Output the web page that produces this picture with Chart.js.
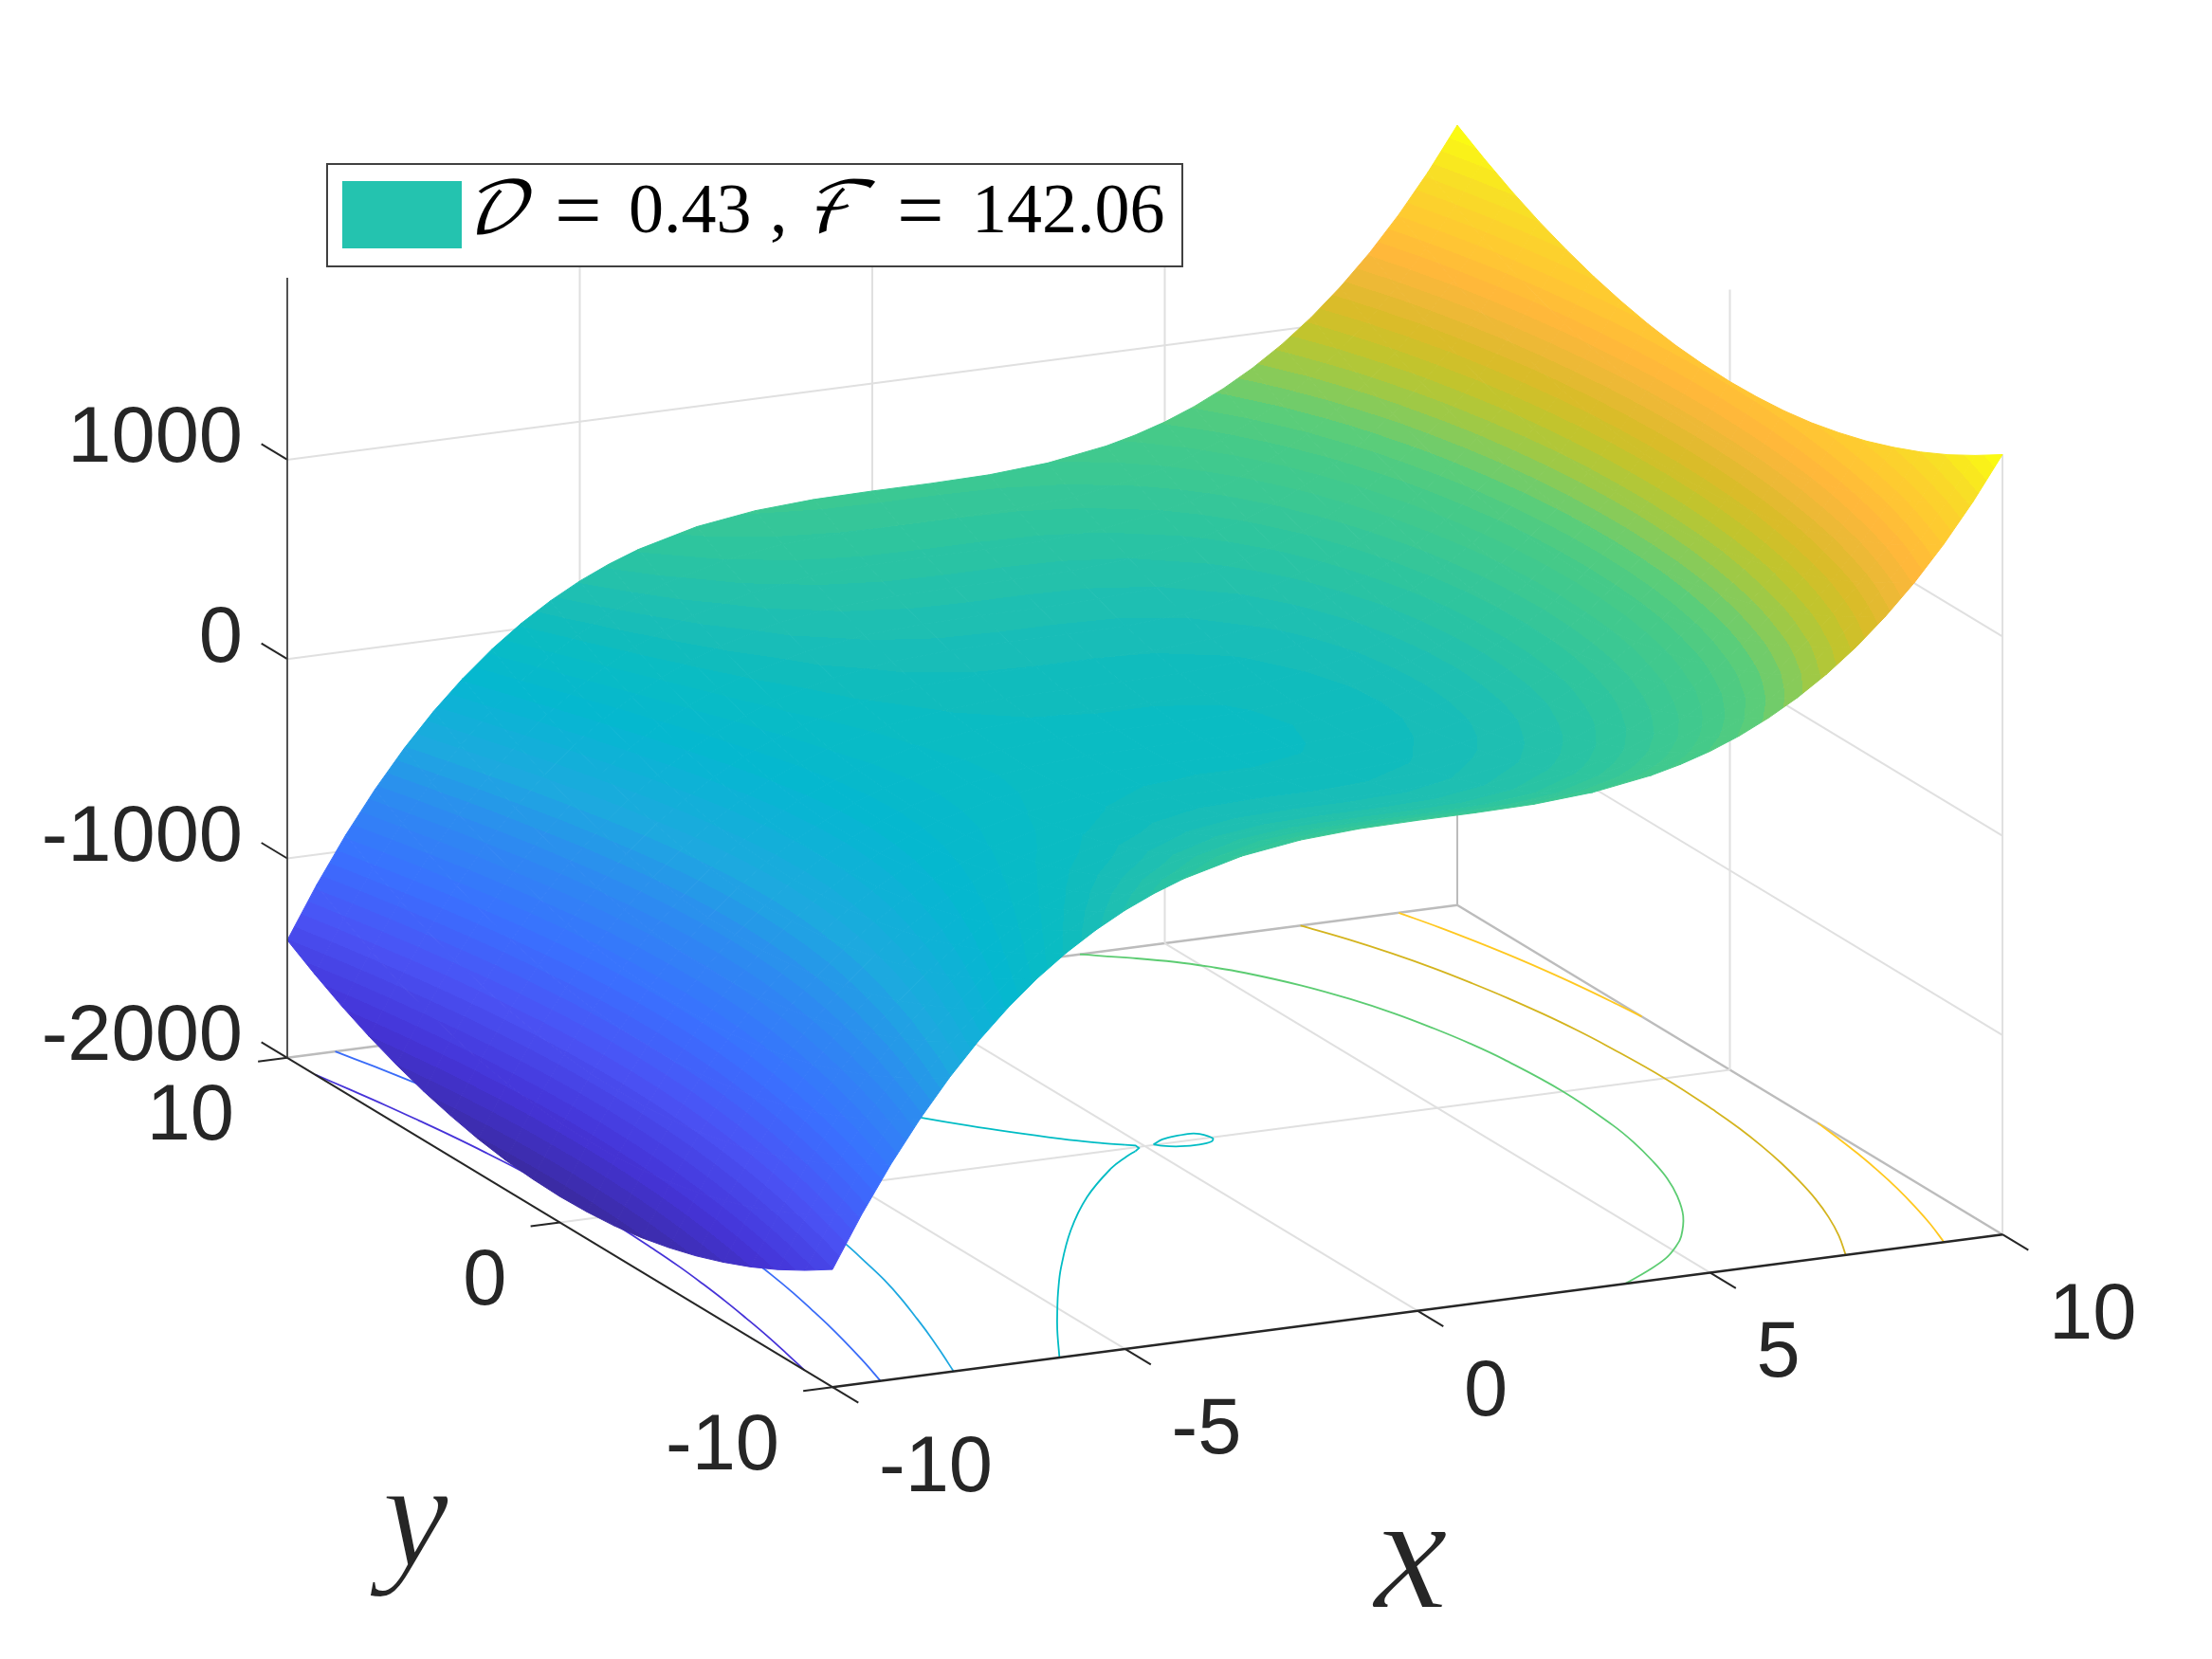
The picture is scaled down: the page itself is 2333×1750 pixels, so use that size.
<!DOCTYPE html>
<html>
<head>
<meta charset="utf-8">
<title>surface</title>
<script src="https://cdn.jsdelivr.net/npm/chart.js@4/dist/chart.umd.min.js"></script>
<style>
  html, body { margin: 0; padding: 0; background: #fff; }
  canvas { display: block; }
</style>
</head>
<body>
<canvas id="surface_chart" width="2333" height="1750"></canvas>
<script>
// ---- data ----
var xValues = [-10,-9.5,-9,-8.5,-8,-7.5,-7,-6.5,-6,-5.5,-5,-4.5,-4,-3,-2,-1,0,1,2,3,4,4.5,5,5.5,6,6.5,7,7.5,8,8.5,9,9.5,10];
var yValues = [-10,-9,-8,-7,-6,-5,-4,-3,-2,-1,0,1,2,3,4,5,6,7,8,9,10];
// one row per x, one column per y
var zRows = [
  [-1410,-1497,-1576,-1645,-1704,-1755,-1796,-1829,-1852,-1865,-1870,-1865,-1852,-1829,-1796,-1755,-1704,-1645,-1576,-1497,-1410],
  [-1153,-1240,-1319,-1388,-1447,-1498,-1539,-1572,-1595,-1608,-1613,-1608,-1595,-1572,-1539,-1498,-1447,-1388,-1319,-1240,-1153],
  [-920,-1007,-1086,-1155,-1214,-1265,-1306,-1339,-1362,-1375,-1380,-1375,-1362,-1339,-1306,-1265,-1214,-1155,-1086,-1007,-920],
  [-711,-798,-877,-946,-1005,-1056,-1097,-1130,-1153,-1166,-1171,-1166,-1153,-1130,-1097,-1056,-1005,-946,-877,-798,-711],
  [-524,-611,-690,-759,-818,-869,-910,-943,-966,-979,-984,-979,-966,-943,-910,-869,-818,-759,-690,-611,-524],
  [-358,-445,-524,-593,-652,-703,-744,-777,-800,-813,-818,-813,-800,-777,-744,-703,-652,-593,-524,-445,-358],
  [-212,-299,-378,-447,-506,-557,-598,-631,-654,-667,-672,-667,-654,-631,-598,-557,-506,-447,-378,-299,-212],
  [-84,-171,-250,-319,-378,-429,-470,-503,-526,-539,-544,-539,-526,-503,-470,-429,-378,-319,-250,-171,-84],
  [26,-61,-140,-209,-268,-319,-360,-393,-416,-429,-434,-429,-416,-393,-360,-319,-268,-209,-140,-61,26],
  [120,33,-46,-115,-174,-225,-266,-299,-322,-335,-340,-335,-322,-299,-266,-225,-174,-115,-46,33,120],
  [200,113,34,-35,-94,-145,-186,-219,-242,-255,-260,-255,-242,-219,-186,-145,-94,-35,34,113,200],
  [266,179,100,31,-28,-79,-120,-153,-176,-189,-194,-189,-176,-153,-120,-79,-28,31,100,179,266],
  [320,233,154,85,26,-25,-66,-99,-122,-135,-140,-135,-122,-99,-66,-25,26,85,154,233,320],
  [396,309,230,161,102,51,10,-23,-46,-59,-64,-59,-46,-23,10,51,102,161,230,309,396],
  [438,351,272,203,144,93,52,19,-4,-17,-22,-17,-4,19,52,93,144,203,272,351,438],
  [456,369,290,221,162,111,70,37,14,1,-4,1,14,37,70,111,162,221,290,369,456],
  [460,373,294,225,166,115,74,41,18,5,0,5,18,41,74,115,166,225,294,373,460],
  [460,373,294,225,166,115,74,41,18,5,0,5,18,41,74,115,166,225,294,373,460],
  [465,378,299,230,171,120,79,46,23,10,5,10,23,46,79,120,171,230,299,378,465],
  [486,399,320,251,192,141,100,67,44,31,26,31,44,67,100,141,192,251,320,399,486],
  [533,446,367,298,239,188,147,114,91,78,73,78,91,114,147,188,239,298,367,446,533],
  [569,482,403,334,275,224,183,150,127,114,109,114,127,150,183,224,275,334,403,482,569],
  [615,528,449,380,321,270,229,196,173,160,155,160,173,196,229,270,321,380,449,528,615],
  [673,586,507,438,379,328,287,254,231,218,213,218,231,254,287,328,379,438,507,586,673],
  [744,657,578,509,450,399,358,325,302,289,284,289,302,325,358,399,450,509,578,657,744],
  [828,741,662,593,534,483,442,409,386,373,368,373,386,409,442,483,534,593,662,741,828],
  [927,840,761,692,633,582,541,508,485,472,467,472,485,508,541,582,633,692,761,840,927],
  [1043,956,877,808,749,698,657,624,601,588,583,588,601,624,657,698,749,808,877,956,1043],
  [1177,1090,1011,942,883,832,791,758,735,722,717,722,735,758,791,832,883,942,1011,1090,1177],
  [1329,1242,1163,1094,1035,984,943,910,887,874,869,874,887,910,943,984,1035,1094,1163,1242,1329],
  [1502,1415,1336,1267,1208,1157,1116,1083,1060,1047,1042,1047,1060,1083,1116,1157,1208,1267,1336,1415,1502],
  [1696,1609,1530,1461,1402,1351,1310,1277,1254,1241,1236,1241,1254,1277,1310,1351,1402,1461,1530,1609,1696],
  [1912,1825,1746,1677,1618,1567,1526,1493,1470,1457,1452,1457,1470,1493,1526,1567,1618,1677,1746,1825,1912]
];

// contour lines on the floor, as [x, y]
var contourM1500 = [[-10,-8.97],[-9.86,-8],[-9.725,-7],[-9.61,-6],[-9.505,-5],[-9.42,-4],[-9.35,-3],[-9.305,-2],[-9.265,0],[-9.305,2],[-9.35,3],[-9.42,4],[-9.505,5],[-9.61,6],[-9.725,7],[-9.86,8],[-10,8.97]];
var contourM1000 = [[-9.18,-10],[-8.98,-9],[-8.8,-8],[-8.635,-7],[-8.49,-6],[-8.355,-5],[-8.245,-4],[-8.16,-3],[-8.095,-2],[-8.045,0],[-8.095,2],[-8.16,3],[-8.245,4],[-8.355,5],[-8.49,6],[-8.635,7],[-8.8,8],[-8.98,9],[-9.18,10]];
var contourM500 = [[-7.93,-10],[-7.67,-9],[-7.42,-8],[-7.19,-7],[-6.97,-6],[-6.78,-5],[-6.63,-4],[-6.49,-3],[-6.39,-2],[-6.31,0],[-6.39,2],[-6.49,3],[-6.63,4],[-6.78,5],[-6.97,6],[-7.19,7],[-7.42,8],[-7.67,9],[-7.93,10]];
var contour0Front = [[-6.12,-10],[-5.5,-8.59],[-5,-7.52],[-4.6,-6.69],[-4,-5.51],[-3,-3.72],[-2,-2.17],[-1,-0.9],[-0.5,-0.4],[-0.25,-0.19]];
var contour0Hook = [[-0.25,-0.19],[-0.127,-0.056],[-0.115,0.094],[-0.246,0.189]];
var contour0Back = [[-0.246,0.189],[-0.5,0.4],[-1,0.9],[-2,2.17],[-3,3.72],[-4,5.51],[-5,7.52],[-5.5,8.59],[-6.12,10]];
var contour0Loop = [[0.16,0.03],[0.4,0.22],[0.7,0.31],[0.93,0.33],[1.05,0.25],[1.14,-0.05],[1.05,-0.2],[0.8,-0.28],[0.49,-0.24],[0.25,-0.1],[0.16,0.03]];
var contour500 = [[3.55,-10],[4.17,-9.5],[4.71,-9],[5.11,-8.5],[5.44,-8],[5.94,-7],[6.31,-6],[6.595,-5],[6.8,-4],[6.96,-3],[7.065,-2],[7.15,0],[7.065,2],[6.96,3],[6.8,4],[6.595,5],[6.31,6],[5.94,7],[5.44,8],[5.11,8.5],[4.71,9],[4.17,9.5],[3.55,10]];
var contour1000 = [[7.32,-10],[7.67,-9],[7.96,-8],[8.2,-7],[8.39,-6],[8.55,-5],[8.675,-4],[8.77,-3],[8.83,-2],[8.885,0],[8.83,2],[8.77,3],[8.675,4],[8.55,5],[8.39,6],[8.2,7],[7.96,8],[7.67,9],[7.32,10]];
var contour1500Front = [[9,-10],[9.23,-9],[9.425,-8],[9.595,-7],[9.735,-6],[9.85,-5],[9.94,-4],[10,-3.23]];
var contour1500Back = [[10,3.23],[9.94,4],[9.85,5],[9.735,6],[9.595,7],[9.425,8],[9.23,9],[9,10]];

var contourColors = ['#4633d8','#3a6cf8','#1ea8e0','#00bcc4','#5ccc72','#d4b41e','#ffc820'];

var xTicks = [-10,-5,0,5,10];
var yTicks = [-10,0,10];
var zTicks = [-2000,-1000,0,1000];
var zFloor = -2000;
var zTop = 1913;

// colour ramp, by height
var rampZ = [-1880,-1600,-1300,-1000,-700,-500,-200,0,100,200,320,450,590,700,800,900,1000,1100,1250,1350,1500,1700,1912];
var rampHex = ['#3a2a9e','#4433d6','#4a52f4','#3a70ff','#2c8cf0','#1ea8e0','#05b8d0','#0abcc2','#18bdb8','#22c0ae','#2cc4a0','#3ac894','#46ca88','#5acd7a','#82cb5e','#a8c83e','#c4c42c','#d8bc28','#f0b838','#ffb83a','#ffc832','#f8de26','#fcff10'];
var bandCount = 64;

var legendSwatch = '#24c3af';
var legendTokens = [['\uD835\uDC9F', 488], ['=', 585], ['0.43', 663], [',', 812], ['\u2131', 847], ['=', 946], ['142.06', 1025]];

// ---- projection of the box on the page ----
var originU = 1207.5, originV = 1209;
var xStepU = 61.7, xStepV = -8.05;
var yStepU = -28.75, yStepV = -17.37;
var zScale = 0.2103;

var project = function (x, y, z) {
    return {
        x: originU + x * xStepU + y * yStepU,
        y: originV + x * xStepV + y * yStepV - (z - zFloor) * zScale
    };
};

var canvas = document.getElementById('surface_chart');
var ctx2d = canvas.getContext('2d');

// ---- colours ----
var hexToRgb = function (hex) {
    return [parseInt(hex.substr(1, 2), 16), parseInt(hex.substr(3, 2), 16), parseInt(hex.substr(5, 2), 16)];
};

var rampColor = function (z) {
    var last = rampZ.length - 1;
    if (z <= rampZ[0]) return rampHex[0];
    if (z >= rampZ[last]) return rampHex[last];
    var i = 0;
    while (rampZ[i + 1] < z) i++;
    var t = (z - rampZ[i]) / (rampZ[i + 1] - rampZ[i]);
    var a = hexToRgb(rampHex[i]), b = hexToRgb(rampHex[i + 1]);
    return 'rgb(' + Math.round(a[0] + (b[0] - a[0]) * t) + ',' + Math.round(a[1] + (b[1] - a[1]) * t) + ',' + Math.round(a[2] + (b[2] - a[2]) * t) + ')';
};

var rampMin = rampZ[0];
var bandSize = (rampZ[rampZ.length - 1] - rampMin) / bandCount;
var bandIndex = function (z) { return Math.floor((z - rampMin) / bandSize); };
var bandColor = function (k) { return rampColor(rampMin + (k + 0.5) * bandSize); };

// a quad gets a stepped gradient running along the slope of its plane on the page
var cellPaint = function (pts, zs) {
    var zLo = Math.min.apply(null, zs), zHi = Math.max.apply(null, zs);
    var zMid = (zs[0] + zs[1] + zs[2] + zs[3]) / 4;
    var flat = bandColor(bandIndex(zMid));
    var d1x = pts[2].x - pts[0].x, d1y = pts[2].y - pts[0].y, dz1 = zs[2] - zs[0];
    var d2x = pts[3].x - pts[1].x, d2y = pts[3].y - pts[1].y, dz2 = zs[3] - zs[1];
    var det = d1x * d2y - d1y * d2x;
    if (Math.abs(det) < 1 || zHi - zLo < 1) return flat;
    var a = (dz1 * d2y - dz2 * d1y) / det;
    var b = (d1x * dz2 - d2x * dz1) / det;
    var g2 = a * a + b * b;
    var cx = (pts[0].x + pts[1].x + pts[2].x + pts[3].x) / 4;
    var cy = (pts[0].y + pts[1].y + pts[2].y + pts[3].y) / 4;
    var grad = ctx2d.createLinearGradient(
        cx + a * (zLo - zMid) / g2, cy + b * (zLo - zMid) / g2,
        cx + a * (zHi - zMid) / g2, cy + b * (zHi - zMid) / g2
    );
    var kLo = bandIndex(zLo), kHi = bandIndex(zHi);
    for (var k = kLo; k <= kHi; k++) {
        var t0 = Math.max(0, (rampMin + k * bandSize - zLo) / (zHi - zLo));
        var t1 = Math.min(1, (rampMin + (k + 1) * bandSize - zLo) / (zHi - zLo));
        var c = bandColor(k);
        grad.addColorStop(t0, c);
        grad.addColorStop(t1, c);
    }
    return grad;
};

// ---- datasets ----
var lineSet = function (points, color, width, tension) {
    return {
        data: points,
        showLine: true,
        fill: false,
        borderColor: color,
        borderWidth: width,
        tension: tension || 0,
        pointRadius: 0
    };
};

var segment = function (a, b, color, width) {
    return lineSet([project(a[0], a[1], a[2]), project(b[0], b[1], b[2])], color, width);
};

var buildGrid = function () {
    var sets = [];
    var light = '#e0e0e0', edge = '#bcbcbc';
    zTicks.forEach(function (z) {
        if (z === zFloor) return;
        sets.push(segment([-10, 10, z], [10, 10, z], light, 2));
        sets.push(segment([10, 10, z], [10, -10, z], light, 2));
    });
    xTicks.forEach(function (x) {
        if (x === -10) return;
        if (x < 10) {
            sets.push(segment([x, 10, zFloor], [x, 10, zTop], light, 2));
            sets.push(segment([x, -10, zFloor], [x, 10, zFloor], light, 2));
        }
    });
    sets.push(segment([10, 0, zFloor], [10, 0, zTop], light, 2));
    sets.push(segment([10, -10, zFloor], [10, -10, zTop], light, 2));
    sets.push(segment([10, 10, zFloor], [10, 10, zTop], edge, 2));
    sets.push(segment([-10, 0, zFloor], [10, 0, zFloor], light, 2));
    sets.push(segment([-10, 10, zFloor], [10, 10, zFloor], edge, 2.5));
    sets.push(segment([10, 10, zFloor], [10, -10, zFloor], edge, 2.5));
    return sets;
};

var buildContours = function () {
    return [
        [contourM1500, 0, 0.4], [contourM1000, 1, 0.4], [contourM500, 2, 0.4],
        [contour0Front, 3, 0.4], [contour0Hook, 3, 0], [contour0Back, 3, 0.4], [contour0Loop, 3, 0.3],
        [contour500, 4, 0.4], [contour1000, 5, 0.4], [contour1500Front, 6, 0.4], [contour1500Back, 6, 0.4]
    ].map(function (item) {
        var pts = item[0].map(function (p) { return project(p[0], p[1], zFloor); });
        return lineSet(pts, contourColors[item[1]], 1.8, item[2]);
    });
};

// nearest cell first: Chart.js paints the first dataset last
var buildSurface = function () {
    var sets = [];
    for (var i = 0; i < xValues.length - 1; i++) {
        for (var j = 0; j < yValues.length - 1; j++) {
            var zs = [zRows[i][j], zRows[i + 1][j], zRows[i + 1][j + 1], zRows[i][j + 1]];
            var pts = [
                project(xValues[i], yValues[j], zs[0]),
                project(xValues[i + 1], yValues[j], zs[1]),
                project(xValues[i + 1], yValues[j + 1], zs[2]),
                project(xValues[i], yValues[j + 1], zs[3])
            ];
            var paint = cellPaint(pts, zs);
            sets.push({
                data: pts.concat([pts[0]]),
                showLine: true,
                fill: 'shape',
                backgroundColor: paint,
                borderColor: paint,
                borderWidth: 1,
                pointRadius: 0
            });
        }
    }
    return sets;
};

var buildAxes = function () {
    var sets = [];
    var ink = '#262626';
    sets.push(segment([-10, -10, zFloor], [10, -10, zFloor], ink, 2.4));
    sets.push(segment([-10, -10, zFloor], [-10, 10, zFloor], ink, 2));
    sets.push(segment([-10, 10, zFloor], [-10, 10, zTop], '#404040', 1.8));
    xTicks.forEach(function (x) {
        sets.push(segment([x, -10, zFloor], [x, -10.95, zFloor], ink, 2));
    });
    yTicks.forEach(function (y) {
        sets.push(segment([-10, y, zFloor], [-10.5, y, zFloor], ink, 2));
    });
    zTicks.forEach(function (z) {
        sets.push(segment([-10, 10, z], [-10, 10.95, z], ink, 2));
    });
    return sets;
};

// ---- text ----
var tickLabelPlugin = {
    id: 'tickLabels',
    afterDatasetsDraw: function (chart) {
        var c = chart.ctx;
        var sx = chart.scales.x, sy = chart.scales.y;
        var at = function (p) { return { x: sx.getPixelForValue(p.x), y: sy.getPixelForValue(p.y) }; };
        c.save();
        c.fillStyle = '#262626';
        c.textBaseline = 'alphabetic';
        c.font = '83px "Liberation Sans"';
        c.textAlign = 'left';
        xTicks.forEach(function (x) {
            var p = at(project(x, -10, zFloor));
            c.fillText(String(x), p.x + 49, p.y + 110);
        });
        c.textAlign = 'right';
        yTicks.forEach(function (y) {
            var p = at(project(-10, y, zFloor));
            c.fillText(String(y), p.x - 56, p.y + 86.5);
        });
        zTicks.forEach(function (z) {
            var p = at(project(-10, 10, z));
            c.fillText(String(z), p.x - 47, p.y + 2.5);
        });

        // axis names, thinned to the weight of the original
        c.textAlign = 'left';
        c.strokeStyle = '#ffffff';
        c.lineWidth = 2;
        c.font = 'italic 176px "Liberation Serif"';
        c.fillText('x', 1449, 1696);
        c.strokeText('x', 1449, 1696);
        c.font = 'italic 158px "Liberation Serif"';
        c.fillText('y', 403, 1651);
        c.strokeText('y', 403, 1651);

        // legend box
        c.fillStyle = '#ffffff';
        c.fillRect(345, 173, 902, 108);
        c.strokeStyle = '#404040';
        c.lineWidth = 2;
        c.strokeRect(345, 173, 902, 108);
        c.fillStyle = legendSwatch;
        c.fillRect(361, 191, 126, 71);
        c.fillStyle = '#000000';
        legendTokens.forEach(function (tok) {
            var script = tok[0] === legendTokens[0][0] || tok[0] === legendTokens[4][0];
            if (tok[0] === '=') {
                c.font = '88px "Liberation Serif"';
                c.fillText(tok[0], tok[1], 251);
            } else {
                c.font = (script ? 'italic ' : '') + '74px "Liberation Serif","DejaVu Math TeX Gyre","DejaVu Sans"';
                c.fillText(tok[0], tok[1], 245);
            }
        });
        c.restore();
    }
};

var init = function () {
    var datasets = buildAxes().concat(buildSurface(), buildContours(), buildGrid());
    new Chart(canvas, {
        type: 'scatter',
        data: { datasets: datasets },
        options: {
            responsive: false,
            animation: false,
            events: [],
            layout: { padding: 0 },
            plugins: {
                legend: { display: false },
                tooltip: { enabled: false }
            },
            scales: {
                x: { type: 'linear', min: 0, max: 2333, display: false },
                y: { type: 'linear', min: 0, max: 1750, reverse: true, display: false }
            }
        },
        plugins: [tickLabelPlugin]
    });
};

init();
</script>
</body>
</html>
